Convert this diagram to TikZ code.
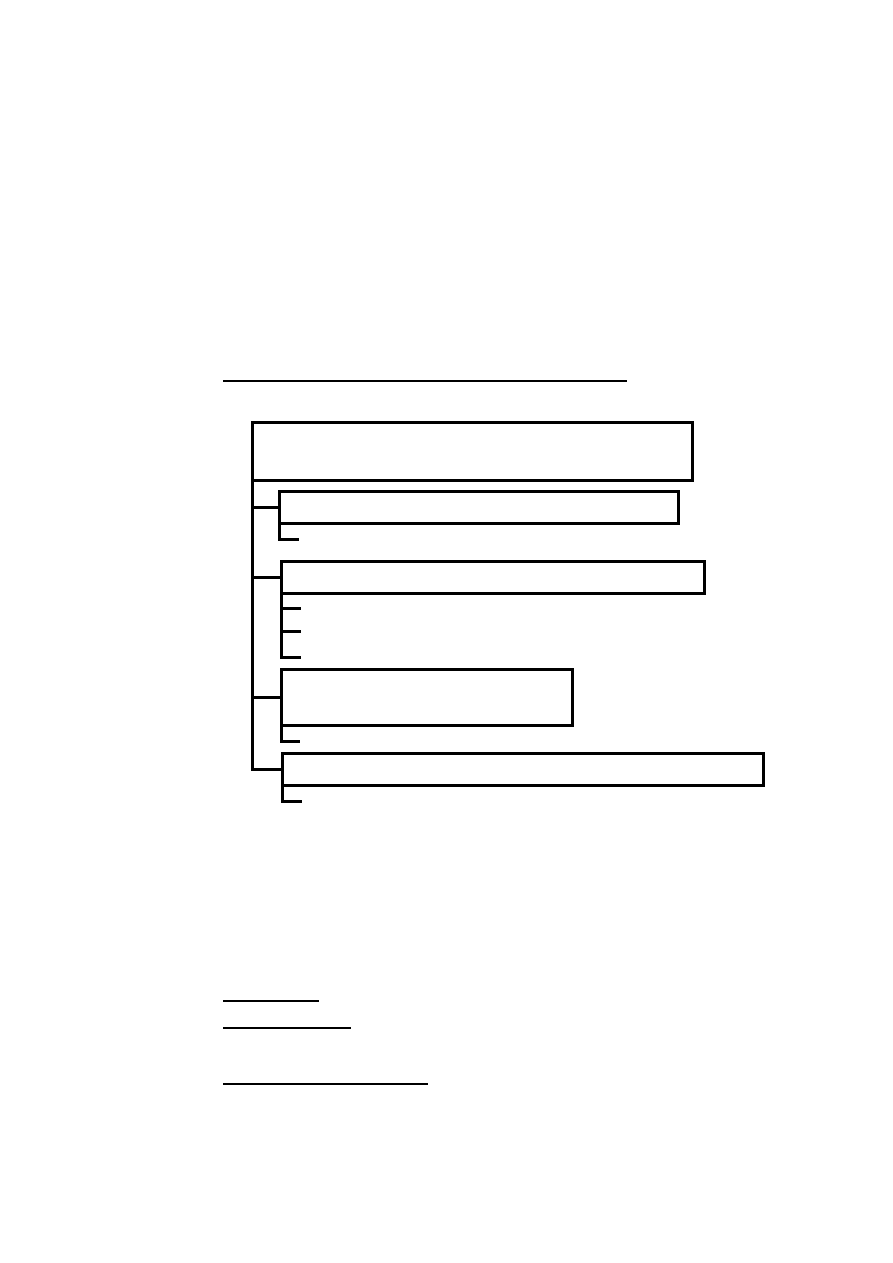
\documentclass[tikz,border=0pt]{standalone}
\usepackage{tikz}
\usetikzlibrary{positioning}
\tikzset{
    block/.style={
        rectangle,
        draw,
        line width=3pt,
        anchor=north west,
        outer sep=0pt,
        inner sep=0pt
    },
    connector/.style={
        line width=3pt
    },
    rule/.style={
        line width=1.3pt
    }
}
\begin{document}
\begin{tikzpicture}[x=1pt,y=-1pt]
\useasboundingbox (0,0) rectangle (893,1263);
% title rule
\draw [rule] (223,381) -- (627,381);
% boxes
\node [block, minimum width=440pt, minimum height=58pt] (head) at (252,422) {};
\node [block, minimum width=399pt, minimum height=32pt] (secA) at (279,491) {};
\node [block, minimum width=423pt, minimum height=32pt] (secB) at (281,561) {};
\node [block, minimum width=291pt, minimum height=56pt] (secC) at (281,669) {};
\node [block, minimum width=481pt, minimum height=32pt] (secD) at (282,753) {};
% end points of the short ticks
\coordinate (a1) at (299,539);
\coordinate (b1) at (301,608);
\coordinate (b2) at (301,631);
\coordinate (b3) at (301,657);
\coordinate (c1) at (300,741);
\coordinate (d1) at (302,801);
% trunk and branches
\draw [connector] (head.south west) |- (secA.west);
\draw [connector] (head.south west) |- (secB.west);
\draw [connector] (head.south west) |- (secC.west);
\draw [connector] (head.south west) |- (secD.west);
% ticks
\draw [connector] (secA.south west) |- (a1);
\draw [connector] (secB.south west) |- (b1);
\draw [connector] (secB.south west) |- (b2);
\draw [connector] (secB.south west) |- (b3);
\draw [connector] (secC.south west) |- (c1);
\draw [connector] (secD.south west) |- (d1);
% lower rules
\draw [rule] (223,1001) -- (319,1001);
\draw [rule] (223,1028) -- (351,1028);
\draw [rule] (223,1084) -- (428,1084);
\end{tikzpicture}
\end{document}
